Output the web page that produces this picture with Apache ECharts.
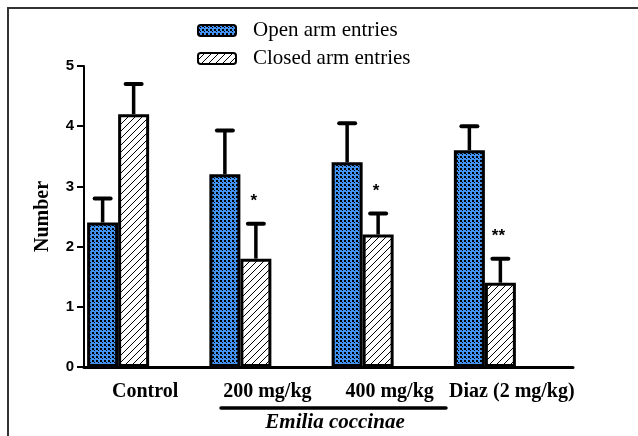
<!DOCTYPE html>
<html>
<head>
<meta charset="utf-8">
<script src="https://cdn.jsdelivr.net/npm/echarts@6/dist/echarts.min.js"></script>
<style>html,body{margin:0;padding:0;background:#fff;}#c{width:638px;height:436px;}</style>
</head>
<body>
<div id="c"></div>
<script>
// ---- data ----
const categories = ['Control', '200 mg/kg', '400 mg/kg', 'Diaz (2 mg/kg)'];
const openMean = [2.4, 3.2, 3.4, 3.6];
const openUpper = [2.8, 3.93, 4.05, 4.0];
const closedMean = [4.2, 1.8, 2.2, 1.4];
const closedUpper = [4.7, 2.38, 2.55, 1.8];
const closedSig = ['', '*', '*', '**'];
const yMin = 0, yMax = 5, yInterval = 1;
const seriesNames = ['Open arm entries', 'Closed arm entries'];
const groupLabel = 'Emilia coccinae';

// ---- patterns ----
function checkPattern() {
  const c = document.createElement('canvas');
  c.width = 4; c.height = 4;
  const g = c.getContext('2d');
  g.fillStyle = '#4393f2'; g.fillRect(0, 0, 4, 4);
  g.fillStyle = '#000'; g.fillRect(0, 0, 2, 2); g.fillRect(2, 2, 1, 1);
  return c;
}
function hatchPattern() {
  const c = document.createElement('canvas');
  c.width = 7; c.height = 7;
  const g = c.getContext('2d');
  g.fillStyle = '#fff'; g.fillRect(0, 0, 7, 7);
  g.strokeStyle = '#000'; g.lineWidth = 1;
  g.beginPath(); g.moveTo(0, 7); g.lineTo(7, 0); g.stroke();
  g.beginPath(); g.moveTo(-1, 1); g.lineTo(1, -1); g.stroke();
  g.beginPath(); g.moveTo(6, 8); g.lineTo(8, 6); g.stroke();
  return c;
}
const openFill = { image: checkPattern(), repeat: 'repeat' };
const closedFill = { image: hatchPattern(), repeat: 'repeat' };

const BW = 31, DUMMY = 54;
const halfTotal = (BW * 2 + DUMMY) / 2;
function errSeries(name, means, uppers, offset, sig) {
  return {
    type: 'custom', name: name + ' err', z: 5,
    data: means.map((m, i) => [i, m, uppers[i]]),
    renderItem: function (params, api) {
      const i = api.value(0);
      const p0 = api.coord([i, api.value(1)]);
      const p1 = api.coord([i, api.value(2)]);
      const x = p0[0] + offset;
      const s = sig ? sig[i] : '';
      const children = [
        { type: 'line', shape: { x1: x, y1: p0[1], x2: x, y2: p1[1] }, style: { stroke: '#000', lineWidth: 3.5 } },
        { type: 'line', shape: { x1: x - 8, y1: p1[1], x2: x + 8, y2: p1[1] }, style: { stroke: '#000', lineWidth: 4, lineCap: 'round' } }
      ];
      if (s) {
        children.push({ type: 'text', style: { text: s, x: x - 2, y: p1[1] - 22, align: 'center', verticalAlign: 'middle', font: 'bold 17px "Liberation Sans", Arial', fill: '#000' } });
      }
      return { type: 'group', children: children };
    }
  };
}

const chart = echarts.init(document.getElementById('c'), null, { renderer: 'canvas' });
chart.setOption({
  animation: false,
  backgroundColor: '#fff',
  grid: { left: 84, right: 65, top: 66, bottom: 69 },
  legend: {
    data: seriesNames, orient: 'vertical', left: 197, top: 20, padding: 0,
    itemWidth: 38, itemHeight: 11, itemGap: 7,
    itemStyle: { borderWidth: 2, borderColor: '#000' },
    textStyle: { fontFamily: '"Liberation Serif", "Times New Roman", serif', fontSize: 21, color: '#000', padding: [0, 0, 0, 12] }
  },
  xAxis: {
    type: 'category', data: categories, boundaryGap: true,
    axisLine: { lineStyle: { color: '#000', width: 3 } },
    axisTick: { alignWithLabel: true, length: 10, lineStyle: { color: '#000', width: 3 } },
    axisLabel: { margin: 15, color: '#000', fontWeight: 'bold', fontSize: 20, fontFamily: '"Liberation Serif", "Times New Roman", serif', interval: 0 }
  },
  yAxis: {
    type: 'value', min: yMin, max: yMax, interval: yInterval,
    name: 'Number', nameLocation: 'middle', nameGap: 31, nameRotate: 90,
    nameTextStyle: { fontFamily: '"Liberation Serif", "Times New Roman", serif', fontSize: 20, fontWeight: 'bold', color: '#000' },
    axisLine: { show: true, lineStyle: { color: '#000', width: 2 } },
    axisTick: { show: true, length: 7, lineStyle: { color: '#000', width: 2 } },
    splitLine: { show: false },
    axisLabel: { margin: 10, color: '#000', fontWeight: 'bold', fontSize: 15, fontFamily: '"Liberation Sans", Arial, sans-serif' }
  },
  series: [
    { type: 'bar', name: seriesNames[0], data: openMean, barWidth: BW, barGap: 0,
      itemStyle: { color: openFill, borderColor: '#000', borderWidth: 3 } },
    { type: 'bar', name: seriesNames[1], data: closedMean, barWidth: BW, barGap: 0,
      itemStyle: { color: closedFill, borderColor: '#000', borderWidth: 3 } },
    { type: 'bar', name: 'spacer', data: categories.map(() => null), barWidth: DUMMY, barGap: 0, silent: true },
    errSeries(seriesNames[0], openMean, openUpper, -halfTotal + BW / 2, null),
    errSeries(seriesNames[1], closedMean, closedUpper, -halfTotal + BW * 1.5, closedSig)
  ],
  graphic: [
    { type: 'rect', shape: { x: 8, y: 8, width: 700, height: 600 }, style: { fill: 'none', stroke: '#333', lineWidth: 2 }, silent: true },
    { type: 'line', shape: { x1: 221, y1: 408, x2: 446, y2: 408 }, style: { stroke: '#000', lineWidth: 3.5, lineCap: 'round' } },
    { type: 'text', style: { text: groupLabel, x: 335, y: 423, align: 'center', verticalAlign: 'middle', font: 'italic bold 21px "Liberation Serif", "Times New Roman", serif', fill: '#000' } }
  ]
});
</script>
</body>
</html>
